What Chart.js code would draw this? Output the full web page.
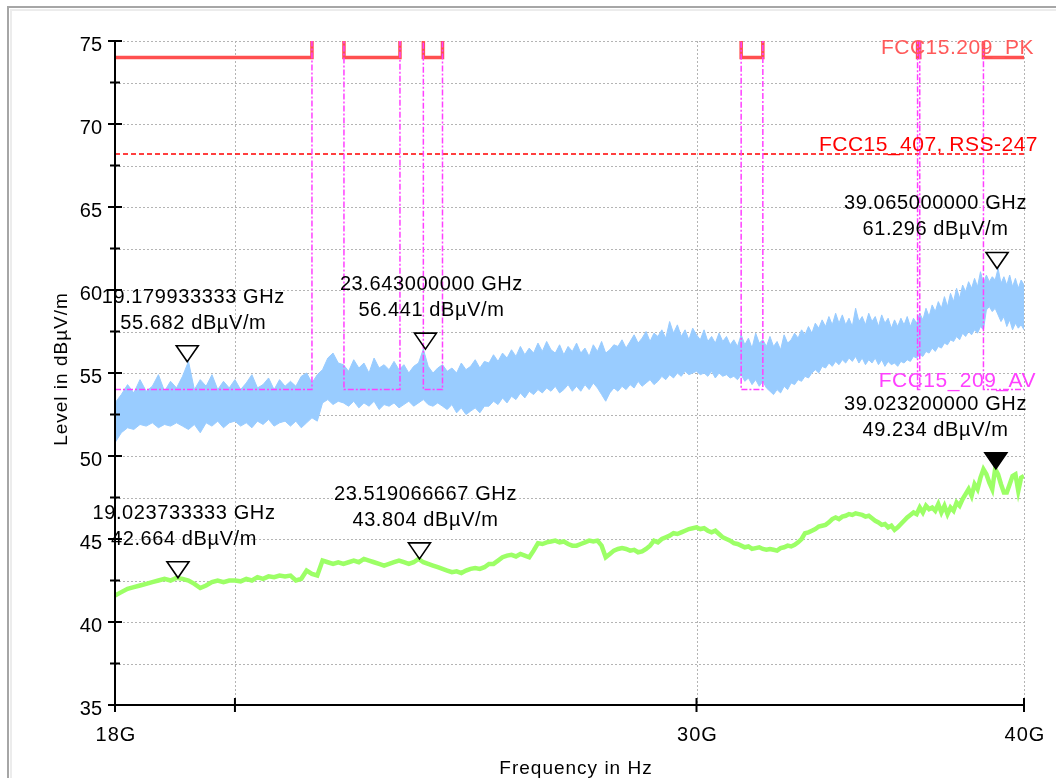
<!DOCTYPE html>
<html>
<head>
<meta charset="utf-8">
<script src="https://cdn.jsdelivr.net/npm/chart.js@4.4.1/dist/chart.umd.min.js"></script>
<style>
  html, body { margin: 0; padding: 0; background: #fff; }
  #wrap { width: 1056px; height: 778px; position: relative; }
</style>
</head>
<body>
<div id="wrap"><canvas id="emiChart"></canvas></div>
<script>
// sweep grid (GHz)
const sweepStartGHz = 18;
const sweepStepGHz = 0.1;

// peak trace: upper and lower edge of the noise band, dBuV/m
const peakHi = [
  53.2, 53.7, 54.3, 53.8, 54.6, 53.9, 54.2, 54.9, 53.9, 54.5,
  54.1, 54.8, 55.7, 54.0, 54.6, 54.2, 54.9, 54.0, 54.5, 54.1,
  54.6, 54.0, 54.4, 54.9, 54.1, 54.3, 54.7, 54.0, 54.6, 54.2,
  54.5, 54.2, 54.8, 55.0, 54.4, 54.9, 55.2, 55.9, 56.2, 55.6,
  55.5, 55.1, 55.8, 55.3, 55.6, 55.0, 55.9, 55.3, 55.5, 55.2,
  55.7, 55.2, 55.5, 55.0, 55.4, 55.6, 56.44, 55.4, 55.0, 55.3,
  55.5, 55.1, 55.3, 55.0, 55.6, 55.2, 55.4, 55.8, 55.3, 55.7,
  55.6, 56.1, 55.7, 56.2, 55.9, 56.4, 56.0, 56.6, 56.1, 56.5,
  56.2, 56.8, 56.3, 56.9, 56.4, 56.2, 56.7, 56.1, 56.6, 56.3,
  56.8, 56.2, 56.5, 56.0, 56.7, 56.3, 56.9, 56.2, 56.4, 56.7,
  56.6, 57.0, 56.5, 56.9, 57.3, 56.8, 57.1, 57.5, 56.9, 57.4,
  57.2, 57.6, 57.1, 58.1, 57.4, 57.9, 57.2, 57.6, 57.0, 57.7,
  57.3, 57.0, 57.6, 56.9, 57.2, 56.8, 57.4, 56.9, 57.2, 56.7,
  57.0, 56.6, 57.3, 56.7, 57.1, 56.5, 57.4, 56.8, 57.0, 56.6,
  57.2, 56.6, 56.9, 56.4, 57.3, 56.8, 57.0, 57.4, 57.1, 57.6,
  57.3, 57.8, 57.4, 58.0, 57.7, 58.2, 57.8, 58.4, 57.9, 58.6,
  58.0, 58.5, 57.9, 58.3, 57.8, 58.9, 58.1, 58.4, 57.9, 58.6,
  58.1, 58.4, 57.8, 58.5, 58.0, 58.3, 57.7, 58.2, 57.8, 58.3,
  57.9, 58.4, 57.8, 58.3, 58.0, 58.6, 58.2, 58.9, 58.4, 59.1,
  58.7, 59.3, 58.9, 59.6, 59.0, 59.8, 59.3, 60.1, 59.5, 60.3,
  59.9, 60.5, 60.1, 60.7, 60.2, 61.1, 60.4, 60.9, 60.5, 60.8,
  60.6, 61.3, 60.4, 60.8, 60.3, 60.9, 60.2, 60.7, 60.1, 60.6,
  60.3
];
const peakLo = [
  50.8, 51.4, 51.7, 51.6, 51.9, 51.8, 52.0, 51.7, 51.9, 51.8,
  52.0, 51.8, 51.6, 51.9, 51.4, 52.0, 51.8, 52.1, 51.7, 52.0,
  52.1, 51.8, 52.0, 51.7, 52.1, 51.9, 52.2, 51.8, 52.0, 52.1,
  51.8, 52.1, 51.7, 52.0, 52.3, 52.1, 53.2, 53.4, 53.1, 53.3,
  53.2, 53.0, 53.3, 52.9, 53.2, 53.0, 53.3, 52.8, 53.1, 53.0,
  53.2, 52.9, 53.1, 53.3, 53.0, 53.2, 53.4, 53.1, 53.0, 53.2,
  53.0, 52.8, 53.1, 52.6, 52.9, 52.5, 52.7, 52.9, 52.6, 53.0,
  53.0, 53.3, 53.1, 53.5, 53.2, 53.6, 53.4, 53.8, 53.5, 53.9,
  53.7, 54.0, 53.8, 54.1, 53.9, 54.2, 53.8, 54.0, 54.3, 53.9,
  54.2, 53.9, 54.3, 54.0, 54.4, 54.1, 53.7, 53.3, 53.8, 54.1,
  53.9, 54.2, 54.0, 54.3, 54.1, 54.5, 54.2, 54.4, 54.6, 54.3,
  54.5, 54.8, 54.6, 54.9, 54.7, 55.0, 54.8, 55.1, 54.9, 55.0,
  55.1, 54.9, 55.0, 54.8, 55.1, 54.7, 55.0, 54.8, 54.9, 54.7,
  54.8, 54.6, 54.9, 54.5, 54.7, 54.3, 54.6, 54.2, 54.5, 54.1,
  53.9, 53.7, 54.0, 53.8, 54.2, 54.0, 54.4, 54.3, 54.6, 54.5,
  54.8, 54.7, 55.0, 55.2, 55.0, 55.4, 55.3, 55.6, 55.4, 55.7,
  55.5, 55.8, 55.6, 55.9, 55.7, 56.0, 55.6, 55.9, 55.5, 55.8,
  55.6, 55.9, 55.5, 55.8, 55.4, 55.7, 55.5, 55.6, 55.4, 55.7,
  55.6, 55.8, 55.7, 56.0, 55.9, 56.1, 56.0, 56.3, 56.2, 56.5,
  56.3, 56.6, 56.5, 56.8, 56.7, 57.0, 56.9, 57.2, 57.0, 57.4,
  57.2, 57.5, 57.3, 57.6, 57.4, 57.8, 57.6, 58.8, 59.0, 58.7,
  58.9, 58.5, 58.1, 58.4, 57.8, 58.2, 57.6, 58.0, 57.7, 57.9,
  57.6
];
// average trace, dBuV/m
const average = [
  41.6, 41.8, 42.0, 42.1, 42.2, 42.3, 42.4, 42.5, 42.6, 42.5,
  42.66, 42.6, 42.5, 42.3, 42.05, 42.2, 42.4, 42.5, 42.4, 42.5,
  42.5, 42.45, 42.6, 42.5, 42.7, 42.6, 42.75, 42.7, 42.8, 42.75,
  42.8, 42.5, 42.6, 43.1, 42.9, 42.8, 43.7, 43.6, 43.5, 43.6,
  43.5, 43.6, 43.7, 43.6, 43.8, 43.7, 43.6, 43.5, 43.4, 43.5,
  43.6, 43.7, 43.6, 43.5, 43.6, 43.8, 43.6, 43.5, 43.4, 43.3,
  43.2, 43.1, 43.0, 43.05, 42.95, 43.1, 43.2, 43.25, 43.2, 43.3,
  43.5, 43.5, 43.7, 43.9, 44.0, 44.05, 43.95, 44.1, 44.0, 43.9,
  44.3, 44.75, 44.7, 44.8, 44.85, 44.9, 44.8, 44.85, 44.7, 44.6,
  44.6, 44.7, 44.8, 44.9, 44.85, 44.9, 44.6, 43.9, 44.1, 44.3,
  44.4, 44.45, 44.4, 44.3, 44.35, 44.2, 44.25, 44.4, 44.6, 44.9,
  44.8, 45.0, 45.1, 45.2, 45.35, 45.3, 45.4, 45.5, 45.6, 45.65,
  45.7, 45.6, 45.65, 45.5, 45.4, 45.5, 45.3, 45.1, 45.0, 44.9,
  44.75, 44.7, 44.6, 44.5, 44.55, 44.4, 44.45, 44.5, 44.4, 44.35,
  44.4, 44.35, 44.3, 44.45, 44.5, 44.6, 44.55, 44.65, 44.8, 45.0,
  45.35, 45.4, 45.5, 45.6, 45.75, 45.8, 45.85, 46.0, 46.2, 46.3,
  46.2, 46.35, 46.4, 46.5, 46.45, 46.55, 46.5, 46.45, 46.35, 46.4,
  46.25, 46.1, 46.0, 45.85, 45.9, 45.7, 45.8, 45.55, 45.7, 45.9,
  46.1, 46.3, 46.45, 46.6, 46.5, 46.9, 46.6, 47.0, 46.8, 46.9,
  46.7, 47.1, 46.6, 47.0, 46.5, 46.9, 46.7, 47.2, 47.0, 47.4,
  47.7, 48.0, 47.6, 48.3, 48.0, 48.7, 49.2, 48.9, 48.4, 48.0,
  49.23, 48.9, 48.3, 47.8, 47.8, 48.3, 48.8, 48.9, 47.9, 48.7,
  48.8
];

// limits
const restrictedStart = [18, 22.01, 23.6, 31.2, 36.43, 38.6];
const restrictedEnd = [21.4, 23.12, 24.0, 31.8, 36.5, 40];
const pkLimit = 74;
const avLimit = 54;
const rssLimit = 68.2;
const offLimit = 90;

// markers
const markerFreq = [19.179933333, 23.643, 39.065, 19.023733333, 23.519066667, 39.0232];
const markerLevel = [55.682, 56.441, 61.296, 42.664, 43.804, 49.234];
const markerFilled = [false, false, false, false, false, true];

// axes
const xTickValues = [18, 20, 30, 40];
const xTickLabels = ['18G', '', '30G', '40G'];
const yTickValues = [35, 37.5, 40, 42.5, 45, 47.5, 50, 52.5, 55, 57.5, 60, 62.5, 65, 67.5, 70, 72.5, 75];

const FONT = '"Liberation Sans", Arial, sans-serif';

function sweep(values) {
    return values.map((v, i) => ({ x: +(sweepStartGHz + i * sweepStepGHz).toFixed(2), y: v }));
}

function limitSteps(level) {
    const pts = [];
    for (let i = 0; i < restrictedStart.length; i++) {
        if (restrictedStart[i] > 18) pts.push({ x: restrictedStart[i], y: offLimit });
        pts.push({ x: restrictedStart[i], y: level });
        pts.push({ x: restrictedEnd[i], y: level });
        if (restrictedEnd[i] < 40) pts.push({ x: restrictedEnd[i], y: offLimit });
    }
    return pts;
}

function setSpacing(ctx, px) {
    if ('letterSpacing' in ctx) ctx.letterSpacing = px + 'px';
}

const decor = {
    id: 'decor',
    beforeDraw(chart) {
        const ctx = chart.ctx;
        ctx.save();
        ctx.fillStyle = '#fff';
        ctx.fillRect(0, 0, chart.width, chart.height);
        ctx.strokeStyle = '#a6a6a6';
        ctx.lineWidth = 2;
        ctx.strokeRect(8, 7, 1100, 1000);
        ctx.strokeStyle = '#ececec';
        ctx.lineWidth = 2;
        ctx.strokeRect(11, 10, 1100, 1000);
        ctx.restore();
    },
    beforeDatasetsDraw(chart) {
        const { ctx, chartArea: a, scales: { x, y } } = chart;
        ctx.save();
        ctx.strokeStyle = '#b4b4b4';
        ctx.lineWidth = 1;
        ctx.setLineDash([2, 2]);
        yTickValues.forEach(v => {
            if (v === 35) return;
            const py = Math.round(y.getPixelForValue(v)) + 0.5;
            ctx.beginPath();
            ctx.moveTo(a.left, py);
            ctx.lineTo(a.right, py);
            ctx.stroke();
        });
        xTickValues.forEach(v => {
            if (v === 18) return;
            const px = Math.round(x.getPixelForValue(v)) + 0.5;
            ctx.beginPath();
            ctx.moveTo(px, a.top);
            ctx.lineTo(px, a.bottom);
            ctx.stroke();
        });
        ctx.restore();
    },
    afterDatasetsDraw(chart) {
        const { ctx, chartArea: a, scales: { x, y } } = chart;
        ctx.save();

        // axis lines and ticks
        ctx.strokeStyle = '#000';
        ctx.lineWidth = 2;
        ctx.beginPath();
        ctx.moveTo(a.left, a.top);
        ctx.lineTo(a.left, a.bottom);
        ctx.lineTo(a.right, a.bottom);
        ctx.stroke();
        yTickValues.forEach(v => {
            const py = y.getPixelForValue(v);
            const len = v % 5 === 0 ? 7 : 5;
            ctx.beginPath();
            ctx.moveTo(a.left - len, py);
            ctx.lineTo(a.left + len, py);
            ctx.stroke();
        });
        xTickValues.forEach(v => {
            const px = x.getPixelForValue(v);
            ctx.beginPath();
            ctx.moveTo(px, a.bottom - 7);
            ctx.lineTo(px, a.bottom + 7);
            ctx.stroke();
        });

        // tick labels
        ctx.fillStyle = '#000';
        ctx.font = '20px ' + FONT;
        ctx.textBaseline = 'alphabetic';
        ctx.textAlign = 'right';
        yTickValues.forEach(v => {
            if (v % 5 !== 0) return;
            ctx.fillText(String(v), a.left - 13, y.getPixelForValue(v) + 10);
        });
        setSpacing(ctx, 1);
        ctx.textAlign = 'center';
        xTickValues.forEach((v, i) => {
            if (!xTickLabels[i]) return;
            ctx.fillText(xTickLabels[i], x.getPixelForValue(v) + 1, a.bottom + 36);
        });

        // axis titles
        ctx.font = '19px ' + FONT;
        ctx.fillText('Frequency in Hz', 576, 774);
        ctx.save();
        ctx.translate(67, 369);
        ctx.rotate(-Math.PI / 2);
        ctx.fillText('Level in dB\u00B5V/m', 0, 0);
        ctx.restore();

        // limit labels
        ctx.font = '21px ' + FONT;
        setSpacing(ctx, 0.5);
        ctx.textAlign = 'right';
        ctx.fillStyle = '#ff5a5a';
        ctx.fillText('FCC15.209_PK', 1034, y.getPixelForValue(pkLimit) - 4);
        ctx.fillStyle = '#ff0000';
        ctx.fillText('FCC15_407, RSS-247', 1038, y.getPixelForValue(rssLimit) - 3);
        ctx.fillStyle = '#ff40ff';
        ctx.fillText('FCC15_209_AV', 1036, y.getPixelForValue(avLimit) - 3);

        // markers
        ctx.font = '20px ' + FONT;
        setSpacing(ctx, 0.6);
        ctx.textAlign = 'center';
        ctx.fillStyle = '#000';
        for (let i = 0; i < markerFreq.length; i++) {
            const px = x.getPixelForValue(markerFreq[i]);
            const py = y.getPixelForValue(markerLevel[i]);
            ctx.beginPath();
            ctx.moveTo(px, py);
            ctx.lineTo(px - 11, py - 16);
            ctx.lineTo(px + 11, py - 16);
            ctx.closePath();
            ctx.lineWidth = 1.6;
            ctx.strokeStyle = '#000';
            if (markerFilled[i]) ctx.fill();
            ctx.stroke();

            const l1 = markerFreq[i].toFixed(9) + ' GHz';
            const l2 = markerLevel[i].toFixed(3) + ' dB\u00B5V/m';
            const w = Math.max(ctx.measureText(l1).width, ctx.measureText(l2).width);
            let cx = px + 6;
            if (cx + w / 2 > a.right + 3) cx = a.right + 3 - w / 2;
            ctx.fillText(l1, cx, py - 59);
            ctx.fillText(l2, cx, py - 33);
        }
        ctx.restore();
    }
};

const ctx = document.getElementById('emiChart').getContext('2d');
new Chart(ctx, {
    type: 'line',
    data: {
        datasets: [
            {   // AV limit (top)
                data: limitSteps(avLimit),
                borderColor: '#ff40ff',
                borderWidth: 1.5,
                borderDash: [6, 2, 2, 2],
                pointRadius: 0,
                fill: false,
                order: 1
            },
            {   // PK limit
                data: limitSteps(pkLimit),
                borderColor: '#ff5050',
                borderWidth: 3.5,
                pointRadius: 0,
                fill: false,
                order: 2
            },
            {   // 15.407 / RSS-247
                data: [{ x: 18, y: rssLimit }, { x: 40, y: rssLimit }],
                borderColor: '#ff0000',
                borderWidth: 1.5,
                borderDash: [5, 3],
                pointRadius: 0,
                fill: false,
                order: 3
            },
            {   // average trace
                data: sweep(average),
                borderColor: '#9cff66',
                borderWidth: 4.5,
                pointRadius: 0,
                fill: false,
                order: 4
            },
            {   // peak trace low edge
                data: sweep(peakLo),
                borderColor: '#99ccff',
                borderWidth: 1,
                pointRadius: 0,
                fill: false,
                order: 6
            },
            {   // peak trace high edge
                data: sweep(peakHi),
                borderColor: '#99ccff',
                backgroundColor: '#99ccff',
                borderWidth: 1,
                pointRadius: 0,
                fill: '-1',
                order: 5
            }
        ]
    },
    options: {
        responsive: true,
        maintainAspectRatio: false,
        animation: false,
        layout: { padding: { left: 115, top: 41, right: 32, bottom: 73 } },
        plugins: { legend: { display: false }, tooltip: { enabled: false } },
        elements: { line: { tension: 0 } },
        scales: {
            x: { type: 'logarithmic', min: 18, max: 40, display: false },
            y: { type: 'linear', min: 35, max: 75, display: false }
        }
    },
    plugins: [decor]
});
</script>
</body>
</html>
